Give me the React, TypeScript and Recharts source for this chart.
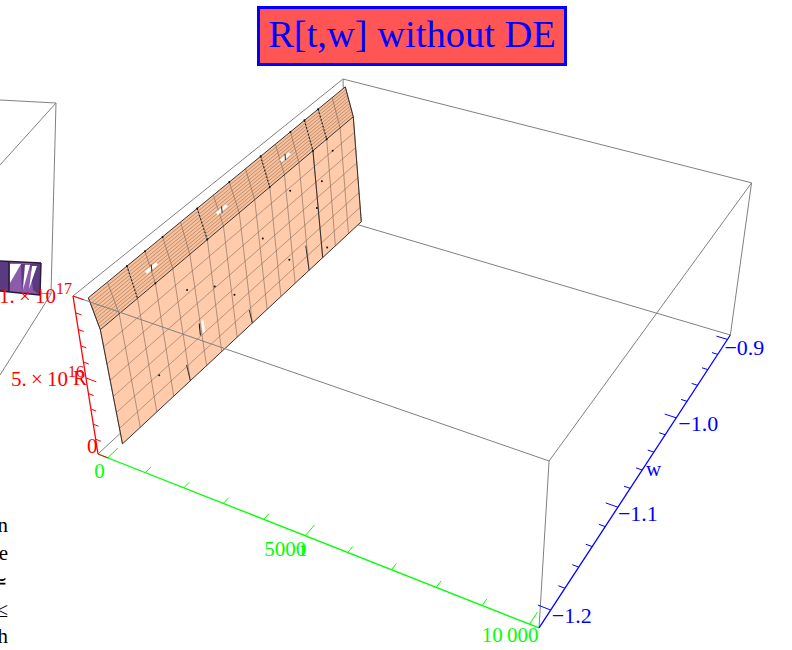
import { Scatter, ScatterChart, XAxis, YAxis } from "recharts";

const WIDTH = 792;
const HEIGHT = 650;

// plot box of the 3D graphic
const T_MIN = -260;
const T_MAX = 10200;
const W_MIN = -1.216;
const W_MAX = -0.894;
const R_MAX = 1; // R is in units of 1e17 below

const tTicks = [0, 1000, 2000, 3000, 4000, 5000, 6000, 7000, 8000, 9000, 10000];
const tMajor = [0, 5000, 10000];
const wTicks = [-1.2, -1.18, -1.16, -1.14, -1.12, -1.1, -1.08, -1.06, -1.04, -1.02, -1.0, -0.98, -0.96, -0.94, -0.92, -0.9];
const wMajor = [-1.2, -1.1, -1.0, -0.9];
const rTicks = [0, 0.1, 0.2, 0.3, 0.4, 0.5, 0.6, 0.7, 0.8, 0.9, 1];
const rMajor = [0, 0.5, 1];

// mesh columns of the surface: top edge, crease, bottom edge
const colTopW = [-1.213, -1.194, -1.174, -1.155, -1.136, -1.116, -1.097, -1.078, -1.059, -1.039, -1.02, -1.001, -0.981, -0.962, -0.943, -0.923, -0.904];
const colTopT = [50, 47, 44, 41, 38, 34, 31, 28, 25, 22, 19, 16, 13, 9, 6, 3, 0];
const colMidW = [-1.205, -1.186, -1.167, -1.148, -1.129, -1.11, -1.09, -1.071, -1.052, -1.033, -1.014, -0.995, -0.976, -0.957, -0.938, -0.919, -0.9];
const colMidT = [0, 8, 16, 23, 31, 39, 47, 54, 62, 70, 78, 85, 93, 101, 109, 116, 124];
const colMidR = [0.765, 0.767, 0.769, 0.77, 0.772, 0.774, 0.776, 0.778, 0.779, 0.781, 0.783, 0.785, 0.787, 0.789, 0.79, 0.792, 0.794];
const colBotW = [-1.2, -1.181, -1.163, -1.144, -1.125, -1.106, -1.088, -1.069, -1.05, -1.031, -1.013, -0.994, -0.975, -0.956, -0.938, -0.919, -0.9];
const colBotT = [0, 17, 34, 51, 68, 85, 102, 119, 136, 152, 169, 186, 203, 220, 237, 254, 271];
const colBotR = [0, 0.004, 0.008, 0.012, 0.016, 0.02, 0.024, 0.028, 0.033, 0.037, 0.041, 0.045, 0.049, 0.053, 0.057, 0.061, 0.065];

// mesh rows below the crease, front end and back end
const rowFrontR = [0.656, 0.546, 0.437, 0.328, 0.219, 0.109];
const rowFrontW = [-1.204, -1.204, -1.203, -1.202, -1.201, -1.201];
const rowBackR = [0.69, 0.586, 0.481, 0.378, 0.273, 0.169];
const rowBackT = [145, 166, 187, 208, 229, 250];

// tight rows between the top edge and the crease
const hatchFrontT = [45, 41, 36, 32, 27, 23, 18, 14, 9, 5];
const hatchFrontW = [-1.212, -1.212, -1.211, -1.21, -1.209, -1.209, -1.208, -1.207, -1.207, -1.206];
const hatchFrontR = [0.979, 0.957, 0.936, 0.915, 0.893, 0.872, 0.85, 0.829, 0.808, 0.786];
const hatchBackT = [11, 23, 34, 45, 56, 68, 79, 90, 101, 113];
const hatchBackW = [-0.904, -0.903, -0.903, -0.903, -0.902, -0.902, -0.902, -0.901, -0.901, -0.9];
const hatchBackR = [0.981, 0.963, 0.944, 0.925, 0.906, 0.888, 0.869, 0.85, 0.832, 0.813];

const darkUpperCols = [2, 6, 10, 13, 14];
const darkLowerCols = [13];
const stubCols = [4, 8, 12];
const stubR = [0.12, 0.12, 0.22];
const topDots = [2, 3, 4, 6, 8, 10, 12, 13, 14];
const creaseDots = [3, 6, 10, 13, 14];

const innerDots = [
  { t: 120, w: -1.12, R: 0.6 },
  { t: 170, w: -1.07, R: 0.33 },
  { t: 150, w: -1.03, R: 0.52 },
  { t: 190, w: -1.0, R: 0.24 },
  { t: 110, w: -0.99, R: 0.66 },
  { t: 200, w: -0.96, R: 0.42 },
  { t: 170, w: -0.95, R: 0.56 },
  { t: 240, w: -0.95, R: 0.1 },
  { t: 100, w: -0.93, R: 0.68 },
  { t: 150, w: -1.16, R: 0.25 },
  { t: 130, w: -1.09, R: 0.48 },
];

// small gaps in the surface
const holeWs = [-1.15, -1.07, -0.99];
const holeR = 0.875;
const holeT = 25;

// neighbouring plot cut off by the left edge
const sideBoxTop = [{ x: 0, y: 100 }, { x: 56, y: 103 }, { x: 0, y: 165 }];
const sideBoxEdge = [{ x: 56, y: 103 }, { x: 51, y: 294 }, { x: 0, y: 375 }];
const sideBoxBack = [{ x: 0, y: 290 }, { x: 51, y: 294 }];
const sideBody = [{ x: 0, y: 261 }, { x: 41, y: 263 }, { x: 40, y: 295 }, { x: 0, y: 291 }];
const sideShade = [
  [{ x: 0, y: 262 }, { x: 9, y: 262 }, { x: 9, y: 292 }, { x: 0, y: 291 }],
  [{ x: 30, y: 264 }, { x: 41, y: 263 }, { x: 40, y: 295 }, { x: 33, y: 290 }],
  [{ x: 21, y: 264 }, { x: 25, y: 264 }, { x: 22, y: 292 }],
];
const sideLight = [
  [{ x: 10, y: 264 }, { x: 21, y: 264 }, { x: 10, y: 283 }],
  [{ x: 25, y: 265 }, { x: 30, y: 265 }, { x: 23, y: 290 }],
  [{ x: 32, y: 266 }, { x: 37, y: 266 }, { x: 29, y: 289 }],
];
const sideDark = [
  [{ x: 9, y: 262 }, { x: 9, y: 292 }],
  [{ x: 41, y: 263 }, { x: 40, y: 295 }],
  [{ x: 0, y: 261 }, { x: 41, y: 263 }],
  [{ x: 0, y: 291 }, { x: 40, y: 295 }],
];
const strayText = [
  { x: 8, y: 532, s: "n" },
  { x: 8, y: 560, s: "e" },
  { x: 8, y: 588, s: "≃" },
  { x: 8, y: 617, s: "≤" },
  { x: 8, y: 643, s: "h" },
];

// camera fitted to the box corners
function project(t: number, w: number, R: number) {
  const u = (t - T_MIN) / (T_MAX - T_MIN);
  const v = (w - W_MIN) / (W_MAX - W_MIN);
  const r = R / R_MAX;
  const z = 1 - 0.124 * u + 0.215 * v - 0.071 * r;
  return {
    x: (98 + 374.2 * u + 324.6 * v - 30.2 * r) / z,
    y: (454 + 96.1 * u - 184.6 * v - 179 * r) / z,
  };
}

const NoDot = () => <g />;
const Dot = (p: any) => <circle cx={p.cx} cy={p.cy} r={1} fill="#111" />;

function Stroke({ data, color, width = 1, dash, opacity }: { data: { x: number; y: number }[]; color: string; width?: number; dash?: string; opacity?: number }) {
  return (
    <Scatter
      data={data}
      dataKey="y"
      isAnimationActive={false}
      shape={NoDot}
      line={{ stroke: color, strokeWidth: width, strokeDasharray: dash, strokeOpacity: opacity }}
    />
  );
}

function Fill({ data, color }: { data: { x: number; y: number }[]; color: string }) {
  return (
    <Scatter
      data={data}
      dataKey="y"
      isAnimationActive={false}
      shape={NoDot}
      line={(p: any) => (
        <polygon points={p.points.map((q: any) => `${q.x},${q.y}`).join(" ")} fill={color} stroke="none" />
      )}
    />
  );
}

function Label({ x, y, children, color, anchor = "start", size = 21 }: any) {
  const shape = (p: any) => (
    <text x={p.cx} y={p.cy} fill={color} fontSize={size} fontFamily="'Liberation Serif', serif" textAnchor={anchor}>
      {children}
    </text>
  );
  return <Scatter data={[{ x, y }]} dataKey="y" isAnimationActive={false} shape={shape} />;
}

const GRAY = "#808080";
const RED = "#ff0000";
const GREEN = "#00ff00";
const BLUE = "#0000ff";

const seg = (a: number[], b: number[]) => [project(a[0], a[1], a[2]), project(b[0], b[1], b[2])];

export default function App() {
  const cols = colTopW.map((_, i) => ({
    top: project(colTopT[i], colTopW[i], 1),
    mid: project(colMidT[i], colMidW[i], colMidR[i]),
    bot: project(colBotT[i], colBotW[i], colBotR[i]),
  }));
  const last = cols.length - 1;
  const at = (t: number, w: number, R: number, dx: number, dy: number) => {
    const p = project(t, w, R);
    return { x: p.x + dx, y: p.y + dy };
  };

  return (
    <div style={{ position: "absolute", left: 0, top: 0, width: WIDTH, height: HEIGHT, background: "#fff", overflow: "hidden" }}>
      <ScatterChart width={WIDTH} height={HEIGHT} margin={{ top: 0, right: 0, bottom: 0, left: 0 }}>
        <XAxis type="number" dataKey="x" domain={[0, WIDTH]} hide />
        <YAxis type="number" dataKey="y" domain={[0, HEIGHT]} reversed hide />

        {/* neighbouring plot */}
        <Stroke data={sideBoxTop} color={GRAY} />
        <Stroke data={sideBoxEdge} color={GRAY} />
        <Stroke data={sideBoxBack} color={GRAY} />
        <Fill data={sideBody} color="#8a5cab" />
        {sideShade.map((d, i) => <Fill key={i} data={d} color="#5a3a80" />)}
        {sideLight.map((d, i) => <Fill key={i} data={d} color="#ffffff" />)}
        {sideDark.map((d, i) => <Stroke key={i} data={d} color="#2a1a3a" width={1.4} />)}

        {/* back of the box */}
        <Stroke data={seg([T_MIN, W_MAX, R_MAX], [T_MIN, W_MIN, R_MAX])} color={GRAY} />
        <Stroke data={seg([T_MIN, W_MAX, R_MAX], [T_MAX, W_MAX, R_MAX])} color={GRAY} />
        <Stroke data={seg([T_MAX, W_MAX, R_MAX], [T_MAX, W_MIN, R_MAX])} color={GRAY} />
        <Stroke data={seg([T_MAX, W_MAX, R_MAX], [T_MAX, W_MAX, 0])} color={GRAY} />
        <Stroke data={seg([T_MAX, W_MIN, R_MAX], [T_MAX, W_MIN, 0])} color={GRAY} />
        <Stroke data={seg([T_MIN, W_MAX, R_MAX], [T_MIN, W_MAX, 0])} color={GRAY} />
        <Stroke data={seg([T_MIN, W_MAX, 0], [T_MAX, W_MAX, 0])} color={GRAY} />
        <Stroke data={seg([T_MIN, W_MIN, 0], [T_MIN, W_MAX, 0])} color={GRAY} />

        {/* surface */}
        <Fill data={[cols[0].top, cols[0].mid, cols[last].mid, cols[last].top]} color="#f9c09a" />
        <Fill data={[cols[0].mid, cols[0].bot, cols[last].bot, cols[last].mid]} color="#ffcbaa" />
        {hatchFrontT.map((_, j) => (
          <Stroke
            key={j}
            data={seg([hatchFrontT[j], hatchFrontW[j], hatchFrontR[j]], [hatchBackT[j], hatchBackW[j], hatchBackR[j]])}
            color="#6f5a50"
            width={0.6}
            opacity={0.75}
          />
        ))}
        {rowFrontR.map((_, j) => (
          <Stroke
            key={j}
            data={seg([0, rowFrontW[j], rowFrontR[j]], [rowBackT[j], -0.9, rowBackR[j]])}
            color="#7d6558"
            width={0.9}
            opacity={0.6}
          />
        ))}
        {cols.map((c, i) => (
          <Stroke key={i} data={[c.top, c.mid, c.bot]} color="#7d6558" width={1} opacity={0.6} />
        ))}
        {darkUpperCols.map((i) => (
          <Stroke key={i} data={[cols[i].top, cols[i].mid]} color="#222" width={1.2} dash="1.5 2" />
        ))}
        {darkLowerCols.map((i) => (
          <Stroke key={i} data={[cols[i].mid, cols[i].bot]} color="#333" width={1} />
        ))}
        {stubCols.map((i, k) => (
          <Stroke key={i} data={seg([colBotT[i] - 60, colBotW[i], stubR[k]], [colBotT[i], colBotW[i], colBotR[i]])} color="#333" width={1} />
        ))}

        {/* gaps */}
        {holeWs.map((w) => (
          <Stroke key={w} data={seg([holeT, w - 0.006, holeR], [holeT, w + 0.006, holeR])} color="#ffffff" width={3} />
        ))}
        {holeWs.map((w) => (
          <Stroke key={w} data={seg([holeT, w, holeR - 0.02], [holeT, w, holeR + 0.02])} color="#222" width={1} />
        ))}
        <Stroke data={seg([100, -1.106, 0.25], [100, -1.106, 0.33])} color="#ffffff" width={2.4} />
        <Stroke data={seg([100, -1.11, 0.25], [100, -1.11, 0.33])} color="#111" width={1} />

        {/* surface outline */}
        <Stroke data={[cols[0].top, cols[last].top, cols[last].mid, cols[last].bot, cols[0].bot, cols[0].mid, cols[0].top]} color="#3a3030" />
        <Stroke data={[cols[0].mid, cols[last].mid]} color="#3a3030" />
        <Scatter
          data={[...topDots.map((i) => cols[i].top), ...creaseDots.map((i) => cols[i].mid), ...innerDots.map((d) => project(d.t, d.w, d.R))]}
          dataKey="y"
          isAnimationActive={false}
          shape={Dot}
        />

        {/* box edge in front of the surface */}
        <Stroke data={seg([T_MIN, W_MIN, R_MAX], [T_MAX, W_MIN, R_MAX])} color={GRAY} />

        {/* axes */}
        <Stroke data={seg([T_MIN, W_MIN, 0], [T_MIN, W_MIN, R_MAX])} color={RED} width={1.3} />
        <Stroke data={seg([T_MIN, W_MIN, 0], [T_MAX, W_MIN, 0])} color={GREEN} width={1.3} />
        <Stroke data={seg([T_MAX, W_MIN, 0], [T_MAX, W_MAX, 0])} color={BLUE} width={1.3} />
        {rTicks.map((R) => (
          <Stroke key={R} data={seg([T_MIN, W_MIN, R], [T_MIN + (rMajor.includes(R) ? 270 : 140), W_MIN, R])} color={RED} />
        ))}
        {tTicks.map((t) => (
          <Stroke key={t} data={seg([t, W_MIN, 0], [t, W_MIN + (tMajor.includes(t) ? 0.011 : 0.006), 0])} color={GREEN} />
        ))}
        {wTicks.map((w) => (
          <Stroke key={w} data={seg([T_MAX, w, 0], [T_MAX - (wMajor.includes(w) ? 270 : 140), w, 0])} color={BLUE} />
        ))}

        {/* labels */}
        <Label {...at(T_MIN, W_MIN, R_MAX, -1, 7)} color={RED} anchor="end">
          1.{"\u2009"}×{"\u2009"}10<tspan dy={-9} fontSize={16}>17</tspan>
        </Label>
        <Label {...at(T_MIN, W_MIN, 0.5, -2, 8)} color={RED} anchor="end">
          5.{"\u2009"}×{"\u2009"}10<tspan dy={-9} fontSize={16}>16</tspan>
        </Label>
        <Label {...at(T_MIN, W_MIN, 0, -11, -1)} color={RED}>0</Label>
        <Label {...at(T_MIN, W_MIN, 0.5, -13, 7)} color={RED}>R</Label>

        <Label {...at(0, W_MIN, 0, -3, 20)} color={GREEN} anchor="end">0</Label>
        <Label {...at(5000, W_MIN, 0, 1, 20)} color={GREEN} anchor="end">5000</Label>
        <Label {...at(5000, W_MIN, 0, -2, 20)} color={GREEN} anchor="middle">t</Label>
        <Label {...at(10000, W_MIN, 0, 9, 18)} color={GREEN} anchor="end">10{"\u2009"}000</Label>

        <Label {...at(T_MAX, -1.2, 0, 1, 13)} color={BLUE} size={22}>−1.2</Label>
        <Label {...at(T_MAX, -1.1, 0, 0, 14)} color={BLUE} size={22}>−1.1</Label>
        <Label {...at(T_MAX, -1.0, 0, 2, 13)} color={BLUE} size={22}>−1.0</Label>
        <Label {...at(T_MAX, -0.9, 0, -3, 16)} color={BLUE} size={22}>−0.9</Label>
        <Label {...at(T_MAX, -1.05, 0, -2, 15)} color={BLUE}>w</Label>

        {strayText.map((s) => (
          <Label key={s.y} x={s.x} y={s.y} color="#000" anchor="end">{s.s}</Label>
        ))}
      </ScatterChart>

      <div
        style={{
          position: "absolute",
          left: 257,
          top: 6,
          width: 304,
          height: 54,
          border: "3px solid #0000ff",
          background: "#ff5555",
          color: "#0000ff",
          fontFamily: "'Liberation Serif', serif",
          fontSize: 38.5,
          lineHeight: "50px",
          textAlign: "center",
          whiteSpace: "nowrap",
        }}
      >
        R[t,w] without DE
      </div>
    </div>
  );
}
